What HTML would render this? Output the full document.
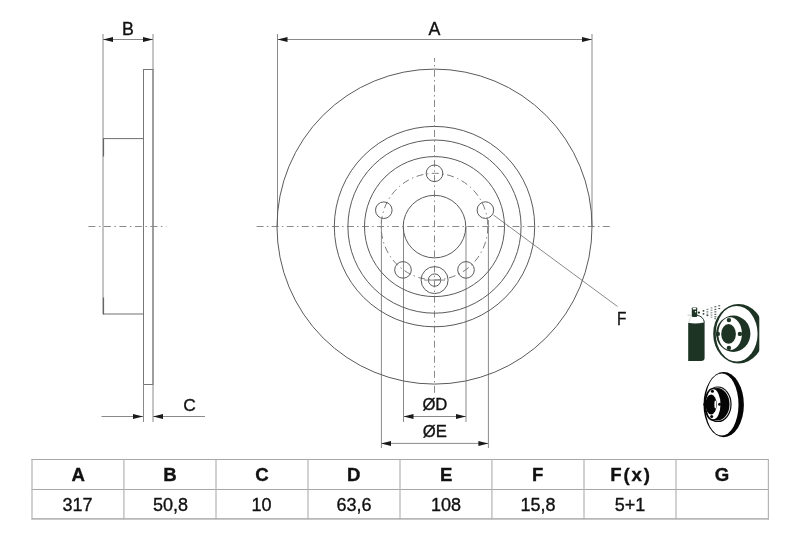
<!DOCTYPE html>
<html><head><meta charset="utf-8">
<style>
html,body{margin:0;padding:0;background:#fff;width:800px;height:533px;overflow:hidden}
svg{position:absolute;left:0;top:0;will-change:transform}
text{font-family:"Liberation Sans",sans-serif;fill:#111;stroke:#111;stroke-width:0.35px}
</style></head><body>
<svg width="800" height="533" viewBox="0 0 800 533">


<!-- ===== LEFT SIDE VIEW ===== -->
<g fill="none" stroke="#8a8a8a" stroke-width="1">
  <!-- extension lines B -->
  <line x1="103" y1="34" x2="103" y2="314"/>
  <line x1="153" y1="34" x2="153" y2="422"/>
  <!-- ring -->
  <rect x="143.5" y="69.5" width="9.5" height="315" stroke="#777"/>
  <!-- hat -->
  <polyline points="103,138.6 143.5,138.6" stroke="#707070"/>
  <polyline points="103,314 143.5,314" stroke="#707070"/>
  <line x1="143.5" y1="384" x2="143.5" y2="422"/>
  <!-- C dim line -->
  <line x1="101.5" y1="416.5" x2="143" y2="416.5"/>
  <line x1="153" y1="416.5" x2="205" y2="416.5"/>
  <!-- B dim line -->
  <line x1="103" y1="39.5" x2="153" y2="39.5"/>
  <!-- centerline -->
  <line x1="88.4" y1="226.5" x2="166.3" y2="226.5" stroke-dasharray="7,3.5,1.5,3.5"/>
</g>
<line x1="103.5" y1="138.5" x2="103.5" y2="156.5" stroke="#666" stroke-width="1.2"/>
<line x1="103.5" y1="297.5" x2="103.5" y2="314.5" stroke="#666" stroke-width="1.2"/>
<!-- arrows B -->
<path d="M103,39.5 L113,37 L113,42 z" fill="#1a1a1a"/>
<path d="M153,39.5 L143,37 L143,42 z" fill="#1a1a1a"/>
<!-- arrows C -->
<path d="M143,416.5 L133,414 L133,419 z" fill="#1a1a1a"/>
<path d="M153,416.5 L163,414 L163,419 z" fill="#1a1a1a"/>
<text x="127.9" y="34.5" font-size="17.8" text-anchor="middle">B</text>
<text x="189.5" y="411.4" font-size="17.4" text-anchor="middle">C</text>

<!-- ===== MAIN FRONT VIEW ===== -->
<g fill="none" stroke="#8a8a8a" stroke-width="1">
  <!-- A extension lines -->
  <line x1="277.5" y1="34" x2="277.5" y2="226"/>
  <line x1="592" y1="34" x2="592" y2="226"/>
  <line x1="277" y1="39.5" x2="592" y2="39.5"/>
  <!-- centerlines -->
  <line x1="256.6" y1="226.5" x2="612" y2="226.5" stroke-dasharray="7,3.2,1.5,3.35"/>
  <line x1="434.5" y1="58" x2="434.5" y2="393" stroke-dasharray="7,3.2,1.5,3.35" stroke-dashoffset="3.25"/>
  <!-- E extension lines -->
  <line x1="381.4" y1="220" x2="381.4" y2="448"/>
  <line x1="488.4" y1="220" x2="488.4" y2="448"/>
  <!-- D extension lines -->
  <line x1="403.5" y1="226.6" x2="403.5" y2="422"/>
  <line x1="466" y1="226.6" x2="466" y2="422"/>
  <!-- D dim -->
  <line x1="403.5" y1="416.5" x2="466" y2="416.5"/>
  <line x1="381" y1="443.4" x2="488" y2="443.4"/>
  <!-- leader F -->
  <line x1="493.5" y1="215" x2="617.5" y2="306.5"/>
</g>
<g fill="none" stroke="#5a5a5a" stroke-width="1">
  <circle cx="434.5" cy="226.6" r="157.5"/>
  <circle cx="434.5" cy="226.6" r="100.2"/>
  <circle cx="434.5" cy="226.6" r="86.6"/>
  <circle cx="434.5" cy="226.6" r="70"/>
  <circle cx="434.5" cy="226.6" r="31.3"/>
  <!-- bolt circle -->
  <circle cx="434.5" cy="226.6" r="53.3" stroke="#7a7a7a" stroke-dasharray="7,3.5,1.5,3.5"/>
  <!-- holes -->
  <circle cx="434.5" cy="173.3" r="8.3"/>
  <circle cx="485.4" cy="210.1" r="8.3"/>
  <circle cx="383.8" cy="210.2" r="8.3"/>
  <circle cx="466" cy="269.9" r="8.3"/>
  <circle cx="403" cy="269.9" r="8.3"/>
  <circle cx="434.6" cy="280.1" r="13.5"/>
  <circle cx="434.6" cy="280.1" r="6.2"/>
  <line x1="424.3" y1="280.1" x2="445" y2="280.1" stroke="#8a8a8a"/>
</g>
<!-- arrows D/E/A -->
<path d="M277.5,39.5 L287.5,37 L287.5,42 z" fill="#1a1a1a"/>
<path d="M592,39.5 L582,37 L582,42 z" fill="#1a1a1a"/>
<path d="M403.5,416.5 L413.5,414 L413.5,419 z" fill="#1a1a1a"/>
<path d="M466,416.5 L456,414 L456,419 z" fill="#1a1a1a"/>
<path d="M381,443.4 L391,440.9 L391,445.9 z" fill="#1a1a1a"/>
<path d="M488.4,443.4 L478.4,440.9 L478.4,445.9 z" fill="#1a1a1a"/>
<text x="434.5" y="34.5" font-size="17.8" text-anchor="middle">A</text>
<text x="621.8" y="324.8" font-size="17.8" text-anchor="middle" textLength="9.4" lengthAdjust="spacingAndGlyphs">F</text>
<text x="434.9" y="410.2" font-size="16.7" text-anchor="middle">ØD</text>
<text x="434.8" y="436.8" font-size="16.7" text-anchor="middle">ØE</text>


<!-- ===== ICON 1 (spray + disc) ===== -->
<defs><clipPath id="c1"><rect x="680" y="295" width="79.3" height="80"/></clipPath></defs>
<g fill="#1d3324">
  <g clip-path="url(#c1)">
    <ellipse cx="738.6" cy="333.75" rx="25.4" ry="29.85"/>
  </g>
  <ellipse cx="736.65" cy="333.75" rx="20.95" ry="27.75" fill="#fff"/>
  <ellipse cx="733.25" cy="333.7" rx="17.15" ry="18.2"/>
  <ellipse cx="730.1" cy="333.65" rx="11.8" ry="16.4" fill="#fff"/>
  <ellipse cx="728.55" cy="333.9" rx="7.35" ry="9.9"/>
  <circle cx="728.9" cy="320.1" r="2.2"/>
  <circle cx="717.8" cy="333.9" r="2.2"/>
  <circle cx="739.9" cy="333.9" r="2.2"/>
  <circle cx="728.9" cy="347.9" r="2.2"/>
  <!-- spray can -->
  <path d="M688.2,322.8 Q696,324.4 704.6,322.2 L704.6,358 Q704.6,361 701,361 L688.2,361 Z"/>
  <path d="M697,315.2 Q703.4,316.4 704.4,322.4" fill="none" stroke="#1d3324" stroke-width="1.0"/>
  <path d="M689,322 Q689.6,317.6 692.2,316.2" fill="none" stroke="#c8d0cb" stroke-width="0.8"/>
  <rect x="691.8" y="307.4" width="5.4" height="9.5" rx="0.8"/>
  <ellipse cx="694.4" cy="308.7" rx="1.9" ry="0.9" fill="#fff"/>
  <circle cx="695.5" cy="311.8" r="0.75" fill="#fff"/>
  <line x1="687.5" y1="315.2" x2="691.8" y2="315.2" stroke="#a0a8a3" stroke-width="0.6"/>
  <!-- spray particles -->
  <circle cx="698.9" cy="312.6" r="1.15"/>
  <g fill="#3a4a40">
    <rect x="702.6" y="310" width="1.8" height="1.7" rx="0.6"/><rect x="702.6" y="313" width="1.8" height="1.7" rx="0.6"/>
  </g>
  <g fill="#7a8580">
    <rect x="706.5" y="308.8" width="1.8" height="1.3"/><rect x="706.5" y="311.2" width="1.8" height="1.3"/><rect x="706.5" y="313.6" width="1.8" height="1.3"/><rect x="706.5" y="315" width="1.8" height="1.1" fill="#3a4a40"/>
  </g>
  <g fill="#9aa39e">
    <rect x="710.6" y="307.2" width="1.8" height="1.4"/><rect x="710.6" y="309.6" width="1.8" height="1.4"/><rect x="710.6" y="312" width="1.8" height="1.4"/><rect x="710.6" y="314.4" width="1.8" height="1.4"/><rect x="710.6" y="316.6" width="1.8" height="1.2"/>
  </g>
  <g fill="#4a5a50">
    <rect x="714.4" y="306.2" width="1.9" height="1.1"/><rect x="714.4" y="308.8" width="1.9" height="1.1"/><rect x="714.4" y="311.3" width="1.9" height="1.1"/><rect x="714.4" y="313.8" width="1.9" height="1.1"/><rect x="714.4" y="316.2" width="1.9" height="1.1"/><rect x="714.4" y="318.2" width="1.6" height="1"/>
    <rect x="718.3" y="305.2" width="1.9" height="1.1"/><rect x="718.3" y="308" width="1.9" height="1.1"/>
  </g>
</g>

<!-- ===== ICON 2 (disc) ===== -->
<g fill="#050505">
  <ellipse cx="723.7" cy="404.65" rx="20.2" ry="32.55"/>
  <ellipse cx="721.8" cy="404.5" rx="16.7" ry="31.0" fill="#fff"/>
  <ellipse cx="717.9" cy="404.3" rx="13.7" ry="17.8"/>
  <ellipse cx="717.7" cy="404.3" rx="12.7" ry="16.7" fill="#fff"/>
  <ellipse cx="717.3" cy="404.3" rx="12.2" ry="16.3"/>
  <ellipse cx="712.75" cy="404.3" rx="8.55" ry="16.4"/>
  <ellipse cx="713.3" cy="404.3" rx="7.2" ry="15.0" fill="#fff"/>
  <ellipse cx="711.1" cy="404.5" rx="5.6" ry="9.9"/>
  <ellipse cx="715.3" cy="404.5" rx="0.9" ry="4" fill="#fff"/>
  <circle cx="712.4" cy="391.3" r="1.5"/>
  <circle cx="719.6" cy="404.3" r="1.5"/>
  <circle cx="711.7" cy="416.6" r="1.5"/>
  <circle cx="704.9" cy="404.3" r="1.5"/>
</g>

<!-- ===== TABLE ===== -->
<g stroke="#a8a8a8" stroke-width="1.2" fill="none">
  <line x1="31.5" y1="459.5" x2="769" y2="459.5"/>
  <line x1="31.5" y1="489.5" x2="769" y2="489.5"/>
  <line x1="31.5" y1="518.9" x2="769" y2="518.9" stroke="#b8b8b8" stroke-width="1.8"/>
</g>
<g stroke="#b4b4b4" stroke-width="1.2" fill="none">
  <line x1="32" y1="459" x2="32" y2="519.5"/>
  <line x1="123.9" y1="459" x2="123.9" y2="519.5"/>
  <line x1="216" y1="459" x2="216" y2="519.5"/>
  <line x1="308" y1="459" x2="308" y2="519.5"/>
  <line x1="400" y1="459" x2="400" y2="519.5"/>
  <line x1="491.9" y1="459" x2="491.9" y2="519.5"/>
  <line x1="584" y1="459" x2="584" y2="519.5"/>
  <line x1="676" y1="459" x2="676" y2="519.5"/>
  <line x1="768.4" y1="459" x2="768.4" y2="519.5"/>
</g>
<g font-size="18.6" font-weight="bold" text-anchor="middle">
  <text x="78.25" y="481.1">A</text>
  <text x="170" y="481.1">B</text>
  <text x="261.9" y="481.1">C</text>
  <text x="353.75" y="481.1">D</text>
  <text x="446.1" y="481.1">E</text>
  <text x="537.75" y="481.1">F</text>
  <text x="631" y="481.1" letter-spacing="1.8">F(x)</text>
  <text x="722.1" y="481.1">G</text>
</g>
<g font-size="18" text-anchor="middle">
  <text x="77.6" y="510.7">317</text>
  <text x="170.4" y="510.7">50,8</text>
  <text x="261.6" y="510.7">10</text>
  <text x="353.9" y="510.7">63,6</text>
  <text x="445.9" y="510.7">108</text>
  <text x="538.1" y="510.7">15,8</text>
  <text x="630" y="510.7">5+1</text>
</g>
</svg>
</body></html>
